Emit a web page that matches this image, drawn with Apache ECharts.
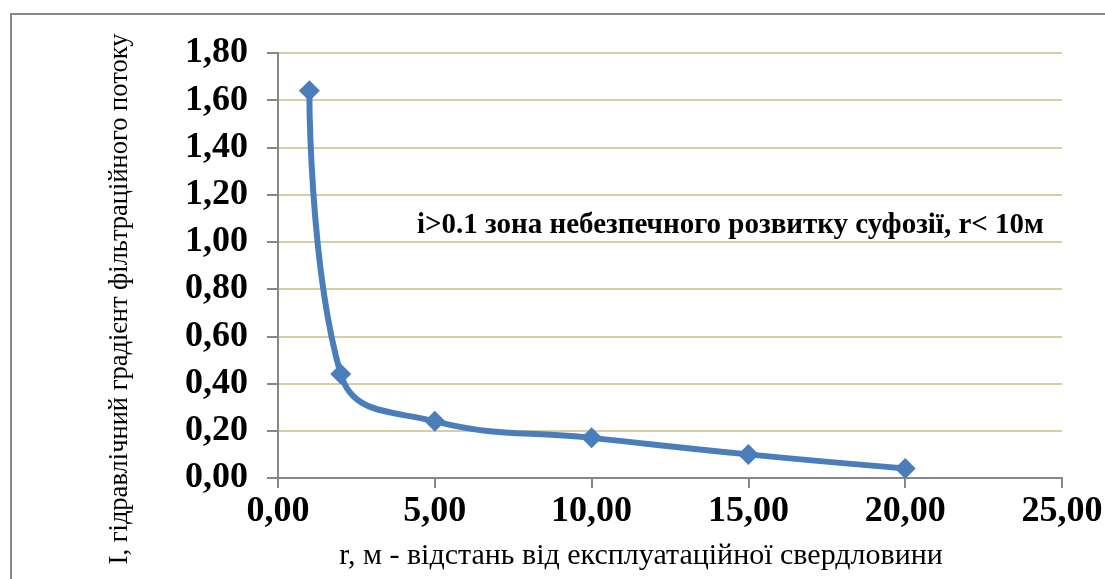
<!DOCTYPE html>
<html><head><meta charset="utf-8">
<script src="https://cdn.jsdelivr.net/npm/echarts@6/dist/echarts.min.js"></script>
<style>html,body{margin:0;padding:0;background:#fff}#c{width:1105px;height:579px}</style>
</head><body><div id="c"></div>
<script>
const rValues = [1, 2, 5, 10, 15, 20];
const iValues = [1.64, 0.44, 0.24, 0.17, 0.10, 0.04];
const xTitle = 'r, м - відстань від експлуатаційної свердловини';
const yTitle = 'I, гідравлічний градієнт фільтраційного потоку';
const noteText = 'i>0.1 зона небезпечного розвитку суфозії, r< 10м';

const chart = echarts.init(document.getElementById('c'));
const fmt = v => v.toFixed(2).replace('.', ',');
chart.setOption({
  animation: false,
  grid: {left: 278, top: 53, right: 43, bottom: 101, outerBoundsMode: 'none', containLabel: false},
  xAxis: {
    type: 'value', min: 0, max: 25, interval: 5,
    axisLine: {lineStyle: {color: '#878787', width: 2}},
    axisTick: {show: true, length: 10, lineStyle: {color: '#878787', width: 2}},
    axisLabel: {formatter: fmt, margin: 16, color: '#000', fontFamily: 'Liberation Serif', fontWeight: 'bold', fontSize: 36},
    splitLine: {show: false}
  },
  yAxis: {
    type: 'value', min: 0, max: 1.8, interval: 0.2,
    axisLine: {show: true, lineStyle: {color: '#878787', width: 2}},
    axisTick: {show: true, length: 11, lineStyle: {color: '#878787', width: 2}},
    axisLabel: {formatter: fmt, margin: 30, color: '#000', fontFamily: 'Liberation Serif', fontWeight: 'bold', fontSize: 36},
    splitLine: {lineStyle: {color: '#d6cfa6', width: 2}}
  },
  graphic: [
    {type: 'line', shape: {x1: 10, y1: 14, x2: 1105, y2: 14}, style: {stroke: '#878787', lineWidth: 2}},
    {type: 'line', shape: {x1: 11, y1: 13, x2: 11, y2: 579}, style: {stroke: '#878787', lineWidth: 2}},
    {type: 'text', left: 417, top: 211, style: {text: noteText, fill: '#000', font: 'bold 29px "Liberation Serif"'}},
    {type: 'text', x: 641, y: 556, style: {text: xTitle, fill: '#000', font: '30px "Liberation Serif"', align: 'center', verticalAlign: 'middle'}},
    {type: 'text', x: 120, y: 299, rotation: Math.PI / 2, style: {text: yTitle, fill: '#000', font: '26.5px "Liberation Serif"', align: 'center', verticalAlign: 'middle'}}
  ],
  series: [{
    type: 'line',
    data: rValues.map((r, k) => [r, iValues[k]]),
    smooth: 0.45,
    symbol: 'diamond', symbolSize: 21,
    lineStyle: {color: '#4a7ebb', width: 6},
    itemStyle: {color: '#4a7ebb'}
  }]
});
</script></body></html>
